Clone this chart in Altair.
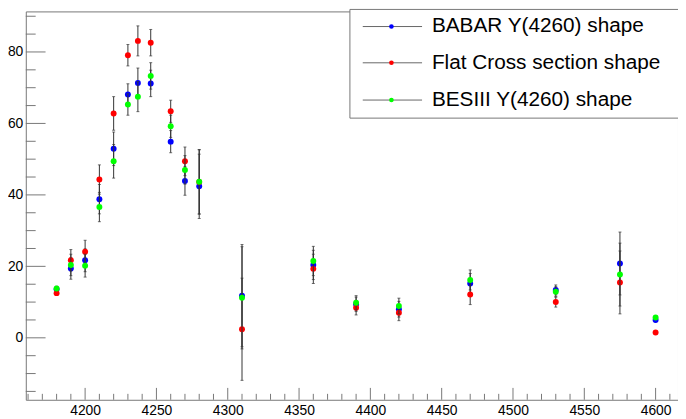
import altair as alt
import pandas as pd

# ---------------- data ----------------
energies = [4180, 4190, 4200, 4210, 4220, 4230, 4237, 4246, 4260, 4270,
            4280, 4310, 4360, 4390, 4420, 4470, 4530, 4575, 4600]
babar = [13.6, 19.4, 21.7, 38.8, 52.9, 68.1, 71.3, 71.2, 54.9, 43.9,
         42.4, 11.8, 20.4, 9.4, 8.0, 15.2, 13.4, 20.8, 5.0]
flat = [12.5, 21.7, 24.1, 44.3, 62.8, 79.1, 83.1, 82.6, 63.4, 49.4,
        43.6, 2.4, 19.3, 8.4, 7.0, 12.1, 10.0, 15.5, 1.5]
besiii = [13.8, 20.4, 20.2, 36.6, 49.4, 65.3, 67.5, 73.3, 59.2, 47.0,
          43.7, 11.2, 21.5, 9.8, 8.9, 16.2, 12.9, 17.7, 5.7]
errors = [0.6, 3.0, 3.2, 4.1, 4.7, 3.0, 4.2, 3.7, 3.1, 4.0,
          9.0, 14.3, 4.1, 2.0, 2.2, 2.8, 1.4, 8.8, 0.5]

series_names = ["BABAR Y(4260) shape", "Flat Cross section shape", "BESIII Y(4260) shape"]
series_values = [babar, flat, besiii]
series_colors = ["#0000ff", "#ff0000", "#00ff00"]

x_labels = [4200, 4250, 4300, 4350, 4400, 4450, 4500, 4550, 4600]
y_labels = [0, 20, 40, 60, 80]
x_minor = list(range(4160, 4611, 10))
y_minor = list(range(-15, 91, 5))

# ---------------- layout ----------------
W, H = 660, 393
X_DOMAIN = [4158.4, 4615.7]
Y_DOMAIN = [-17.34, 91.35]
FONT = "Liberation Sans"
FRAME = "#777777"

xscale = alt.Scale(domain=X_DOMAIN, nice=False, zero=False)
yscale = alt.Scale(domain=Y_DOMAIN, nice=False, zero=False)
xaxis = alt.Axis(values=x_labels, format="d", labelPadding=4, title=None)
yaxis = alt.Axis(values=y_labels, format="d", labelPadding=3, title=None)


def X(field):
    return alt.X(field, type="quantitative", scale=xscale, axis=xaxis)


def Y(field):
    return alt.Y(field, type="quantitative", scale=yscale, axis=yaxis)


layers = []

# inward tick marks (ROOT style)
xt = pd.DataFrame({"v": x_minor})
xt["major"] = xt["v"].isin(x_labels)
layers.append(alt.Chart(xt[~xt.major]).mark_rule(color=FRAME, strokeWidth=1).encode(
    x=X("v"), y=alt.value(H), y2=alt.value(H - 6)))
layers.append(alt.Chart(xt[xt.major]).mark_rule(color=FRAME, strokeWidth=1).encode(
    x=X("v"), y=alt.value(H), y2=alt.value(H - 12)))

yt = pd.DataFrame({"v": y_minor})
yt["major"] = yt["v"].isin(y_labels)
layers.append(alt.Chart(yt[~yt.major]).mark_rule(color=FRAME, strokeWidth=1).encode(
    y=Y("v"), x=alt.value(0), x2=alt.value(10)))
layers.append(alt.Chart(yt[yt.major]).mark_rule(color=FRAME, strokeWidth=1).encode(
    y=Y("v"), x=alt.value(0), x2=alt.value(20)))

# series: error bars + markers, drawn in order
for name, vals, col in zip(series_names, series_values, series_colors):
    df = pd.DataFrame({"E": energies, "v": vals, "err": errors})
    df["lo"] = df["v"] - df["err"]
    df["hi"] = df["v"] + df["err"]
    df["series"] = name
    layers.append(alt.Chart(df).mark_rule(color="#333333", strokeWidth=1).encode(
        x=X("E"), y=Y("lo"), y2="hi"))
    layers.append(alt.Chart(df).mark_tick(orient="horizontal", size=3, thickness=1,
                                          color="#333333").encode(x=X("E"), y=Y("lo")))
    layers.append(alt.Chart(df).mark_tick(orient="horizontal", size=3, thickness=1,
                                          color="#333333").encode(x=X("E"), y=Y("hi")))
    layers.append(alt.Chart(df).mark_circle(size=36, opacity=1, color=col).encode(
        x=X("E"), y=Y("v")))

# legend box
legend_df = pd.DataFrame({"name": series_names, "color": series_colors})
layers.append(alt.Chart(legend_df.head(1)).mark_rect(fill="white", stroke=FRAME,
                                                     strokeWidth=1).encode(
    x=alt.value(328), x2=alt.value(W + 2), y=alt.value(-2), y2=alt.value(108)))
row_y = [15.3, 52.0, 89.7]
for i, (name, col) in enumerate(zip(series_names, series_colors)):
    one = legend_df.iloc[[i]]
    layers.append(alt.Chart(one).mark_rule(color="#666666", strokeWidth=1).encode(
        x=alt.value(341), x2=alt.value(401), y=alt.value(row_y[i])))
    layers.append(alt.Chart(one).mark_circle(size=22, opacity=1, color=col).encode(
        x=alt.value(370), y=alt.value(row_y[i])))
    layers.append(alt.Chart(one).mark_text(align="left", baseline="middle", fontSize=21,
                                           font=FONT, color="black").encode(
        x=alt.value(411), y=alt.value(row_y[i]), text="name:N"))

chart = alt.layer(*layers).properties(
    width=W, height=H,
    padding={"left": 18, "top": 1, "right": 0, "bottom": 17},
    autosize=alt.AutoSizeParams(type="none"),
).configure_view(stroke=FRAME, strokeWidth=1).configure_axis(
    grid=False, ticks=False, domain=False, labelFont=FONT, labelFontSize=14,
    labelColor="black",
)

chart.save("out.html", embed_options={"renderer": "svg", "actions": False})
